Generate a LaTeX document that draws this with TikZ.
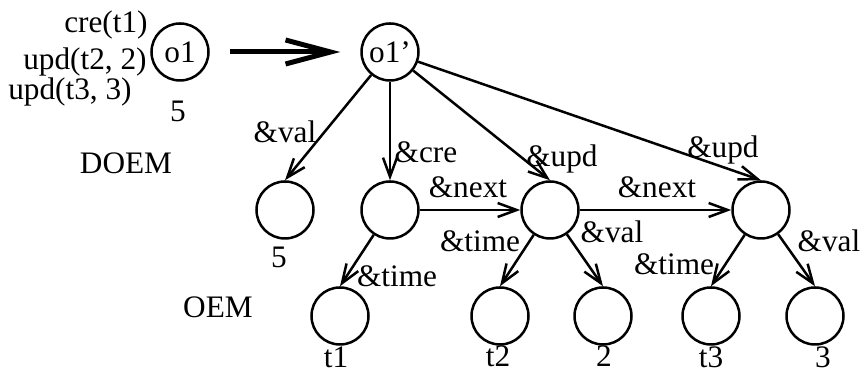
\documentclass[tikz,border=0pt]{standalone}
\usepackage{fontspec}
\setmainfont{Liberation Serif}
\usetikzlibrary{arrows.meta}
\tikzset{
  objnode/.style={circle, draw, line width=0.05cm, minimum size=1.14cm, inner sep=0pt},
  relarrow/.style={-{Straight Barb[length=0.38cm,width=0.28cm]}, line width=0.05cm},
  bigarrow/.style={-{Straight Barb[length=0.9cm,width=0.48cm]}, line width=0.1cm,
    shorten <=0.4cm, shorten >=0.4cm},
  lbl/.style={anchor=base, inner sep=0pt}
}
\begin{document}
\begin{tikzpicture}
                {\fontsize{17.8}{21}\selectfont
                
                % Fixing the page
                \useasboundingbox (0.000000,0.000000) rectangle (17.220000,7.460000);%
                
                % Marking object o1 by circle
                \node [objnode] (o1) at (3.600000,6.420000) {o1};%
                \node [lbl, anchor=base east] (cret1) at (2.960000,6.800000) {cre(t1)};%
                \node [lbl, anchor=base east] (updt2) at (2.940000,6.060000) {upd(t2, 2)};%
                \node [lbl, anchor=base east] (updt3) at (2.640000,5.460000) {upd(t3, 3)};%
                \node [lbl] (o1val) at (3.560000,5.020000) {5};%
                \node [lbl] (doem) at (2.520000,3.980000) {DOEM};%
                
                % Marking object o1' by circle
                \node [objnode] (o1p) at (7.800000,6.420000) {o1'};%
                
                % Drawing the big arrow o1 o1'
                \draw [bigarrow] (o1) -- (o1p);%
                
                % Marking children of o1'
                \node [objnode] (val) at (5.700000,3.260000) {};%
                \node [objnode] (cre) at (7.800000,3.260000) {};%
                \node [objnode] (upda) at (11.000000,3.260000) {};%
                \node [objnode] (updb) at (15.220000,3.260000) {};%
                \node [lbl] (valv) at (5.580000,2.100000) {5};%
                
                % Marking leaves
                \node [objnode] (ta) at (6.800000,1.140000) {};%
                \node [objnode] (tb) at (10.000000,1.140000) {};%
                \node [objnode] (vb) at (12.060000,1.140000) {};%
                \node [objnode] (tc) at (14.220000,1.140000) {};%
                \node [objnode] (vc) at (16.300000,1.140000) {};%
                \node [lbl] (tav) at (6.720000,0.100000) {t1};%
                \node [lbl] (tbv) at (9.960000,0.130000) {t2};%
                \node [lbl] (vbv) at (12.080000,0.130000) {2};%
                \node [lbl] (tcv) at (14.220000,0.100000) {t3};%
                \node [lbl] (vcv) at (16.460000,0.100000) {3};%
                \node [lbl] (oem) at (4.360000,1.100000) {OEM};%
                
                % Drawing edges from o1'
                \draw [relarrow] (o1p) -- (val.north);%
                \draw [relarrow] (o1p) -- (cre.north);%
                \draw [relarrow] (o1p) -- (upda.north);%
                \draw [relarrow] (o1p) -- (updb.north);%
                \node [lbl] (lval) at (5.700000,4.600000) {\&val};%
                \node [lbl] (lcre) at (8.520000,4.200000) {\&cre};%
                \node [lbl] (lupda) at (11.240000,4.120000) {\&upd};%
                \node [lbl] (lupdb) at (14.460000,4.300000) {\&upd};%
                
                % Drawing next chain
                \draw [relarrow] (cre) -- (upda);%
                \draw [relarrow] (upda) -- (updb);%
                \node [lbl] (lnexta) at (9.360000,3.500000) {\&next};%
                \node [lbl] (lnextb) at (13.140000,3.500000) {\&next};%
                
                % Drawing time and val edges
                \draw [relarrow] (cre) -- (ta.north);%
                \draw [relarrow] (upda) -- (tb.north);%
                \draw [relarrow] (upda) -- (vb.north);%
                \draw [relarrow] (updb) -- (tc.north);%
                \draw [relarrow] (updb) -- (vc.north);%
                \node [lbl] (ltimea) at (7.940000,1.720000) {\&time};%
                \node [lbl] (ltimeb) at (9.600000,2.420000) {\&time};%
                \node [lbl] (lvalb) at (12.240000,2.600000) {\&val};%
                \node [lbl] (ltimec) at (13.480000,1.960000) {\&time};%
                \node [lbl] (lvalc) at (16.580000,2.420000) {\&val};%
                }
\end{tikzpicture}
\end{document}
